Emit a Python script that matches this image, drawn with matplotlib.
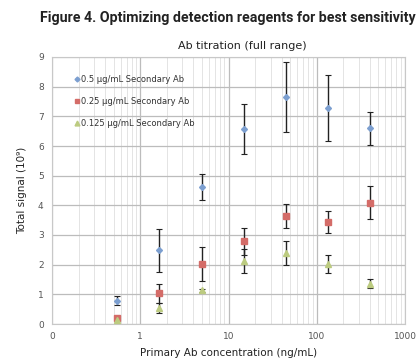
import matplotlib
matplotlib.use("Agg")
import matplotlib.pyplot as plt
from matplotlib.lines import Line2D
from matplotlib.ticker import FixedLocator, FixedFormatter, LogLocator, NullFormatter

# primary Ab concentration (ng/mL)
conc = [0.55, 1.65, 5.0, 14.8, 44.4, 133, 400]

sec_05 = [0.79, 2.48, 4.63, 6.58, 7.65, 7.28, 6.60]
sec_05_err = [0.15, 0.73, 0.44, 0.84, 1.18, 1.12, 0.55]

sec_025 = [0.21, 1.03, 2.01, 2.79, 3.64, 3.44, 4.09]
sec_025_err = [0.05, 0.33, 0.57, 0.46, 0.39, 0.37, 0.56]

sec_0125 = [0.13, 0.54, 1.13, 2.12, 2.39, 2.01, 1.36]
sec_0125_err = [0.03, 0.18, 0.05, 0.40, 0.41, 0.30, 0.15]

labels = ["0.5 \u00b5g/mL Secondary Ab", "0.25 \u00b5g/mL Secondary Ab",
          "0.125 \u00b5g/mL Secondary Ab"]
xtick_vals = [0.1, 1, 10, 100, 1000]
xtick_labels = ["0", "1", "10", "100", "1000"]

fig = plt.figure(figsize=(4.19, 3.63), dpi=100)
ax = fig.add_axes([52 / 419, 1 - 324 / 363, (405 - 52) / 419, (324 - 57) / 363])

series = [
    (sec_05, sec_05_err, "D", "#7c9fd0", 3.0),
    (sec_025, sec_025_err, "s", "#d46c68", 4.0),
    (sec_0125, sec_0125_err, "^", "#bccb80", 4.0),
]
handles = []
for (vals, errs, mk, col, ms), lab in zip(series, labels):
    ax.errorbar(conc, vals, yerr=errs, fmt=mk, color=col, ms=ms, mec=col,
                ecolor="#222222", elinewidth=1.0, capsize=2, capthick=0.8,
                zorder=3)
    handles.append(Line2D([], [], ls="none", marker=mk, color=col, ms=ms - 0.5, label=lab))

ax.set_xscale("log")
ax.set_xlim(0.1, 1000)
ax.set_ylim(0, 9)
ax.set_yticks(range(0, 10))
ax.xaxis.set_major_locator(FixedLocator(xtick_vals))
ax.xaxis.set_major_formatter(FixedFormatter(xtick_labels))
ax.xaxis.set_minor_locator(LogLocator(base=10, subs=range(2, 10)))
ax.xaxis.set_minor_formatter(NullFormatter())

ax.grid(True, which="major", color="#bcbcbc", lw=0.9)
ax.grid(True, which="minor", axis="x", color="#e4e4e4", lw=0.7)
ax.set_axisbelow(True)
for s in ax.spines.values():
    s.set_color("#c8c8c8")
ax.tick_params(which="both", length=0, labelsize=6.5, colors="#555555", pad=6)

ax.legend(handles=handles, loc="upper left", bbox_to_anchor=(0.055, 0.945), frameon=False,
          fontsize=6, handletextpad=0.2, labelspacing=1.55, handlelength=0.6,
          borderaxespad=0, labelcolor="#333333")

ax.set_title("Ab titration (full range)", fontsize=8, color="#222222", pad=6, x=0.54)
ax.set_xlabel("Primary Ab concentration (ng/mL)", fontsize=7.5, color="#222222", labelpad=5)
ax.set_ylabel("Total signal (10\u2079)", fontsize=7.5, color="#222222", labelpad=8)

fig.text(0.543, 0.95, "Figure 4. Optimizing detection reagents for best sensitivity",
         ha="center", va="center", fontsize=10.2, fontweight="bold", color="#222222",
         family=["Roboto", "DejaVu Sans"])

fig.savefig("out.png", dpi=100)
